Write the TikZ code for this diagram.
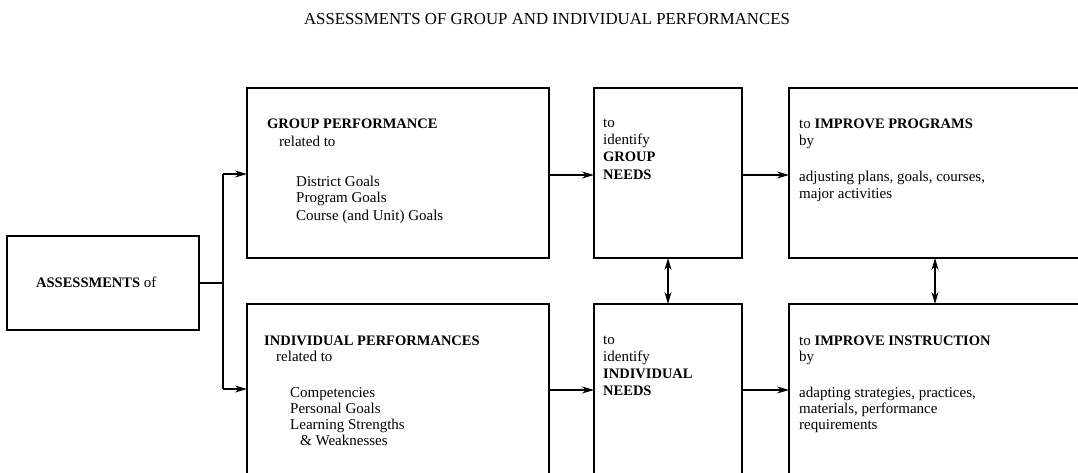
\documentclass[tikz,border=0pt]{standalone}
\usepackage{fontspec}
\setmainfont{Liberation Serif}
\usetikzlibrary{arrows.meta}
\begin{document}
\begin{tikzpicture}[x=1pt,y=-1pt,
  box/.style={draw, line width=1.2pt, rectangle, inner sep=0pt, outer sep=0pt, anchor=north west},
  conn/.style={line width=1.1pt},
  arr/.style={conn, -{Stealth[length=12pt,width=7pt]}},
  dbl/.style={conn, {Stealth[length=12pt,width=7pt]}-{Stealth[length=12pt,width=7pt]}},
  txt/.style={anchor=base west, inner sep=0pt, font=\fontsize{15}{17}\selectfont},
  btxt/.style={anchor=base west, inner sep=0pt, font=\fontsize{14.5}{17}\selectfont\bfseries}]
\useasboundingbox (0,0) rectangle (1078,473);
% title
\node[anchor=base, inner sep=0pt, font=\fontsize{16.8}{18}\selectfont] (title) at (547,25) {ASSESSMENTS OF GROUP AND INDIVIDUAL PERFORMANCES};
% boxes
\node[box, minimum width=192pt, minimum height=94pt] (as) at (7,236) {};
\node[box, minimum width=302pt, minimum height=170pt] (gp) at (247,88) {};
\node[box, minimum width=302pt, minimum height=190pt] (ip) at (247,304) {};
\node[box, minimum width=148pt, minimum height=170pt] (gn) at (594,88) {};
\node[box, minimum width=148pt, minimum height=190pt] (in) at (594,304) {};
\node[box, minimum width=310pt, minimum height=170pt] (pr) at (789,88) {};
\node[box, minimum width=310pt, minimum height=190pt] (ins) at (789,304) {};
% connectors
\coordinate (j) at (223,283);
\coordinate (jt) at (223,174);
\coordinate (jb) at (223,389);
\coordinate (r1) at (0,175);
\coordinate (r2) at (0,390);
\coordinate (v2) at (935,0);
\draw[conn] (as.east |- j) -- (j);
\draw[conn] (jt) -- (jb);
\draw[arr] (jt) -- (jt -| gp.west);
\draw[arr] (jb) -- (jb -| ip.west);
\draw[arr] (gp.east |- r1) -- (gn.west |- r1);
\draw[arr] (gn.east |- r1) -- (pr.west |- r1);
\draw[arr] (ip.east |- r2) -- (in.west |- r2);
\draw[arr] (in.east |- r2) -- (ins.west |- r2);
\draw[dbl] (gn.south) -- (gn.south |- in.north);
\draw[dbl] (pr.south -| v2) -- (ins.north -| v2);
% texts
\node[txt] (ast) at (36,287) {\textbf{\fontsize{14.5}{17}\selectfont ASSESSMENTS} of};
\node[btxt] (gp1) at (267,129) {GROUP PERFORMANCE};
\node[txt] (gp2) at (279,147) {related to};
\node[txt] (gp3) at (296,186) {District Goals};
\node[txt] (gp4) at (296,203) {Program Goals};
\node[txt] (gp5) at (296,220) {Course (and Unit) Goals};
\node[btxt] (ip1) at (264,345) {INDIVIDUAL PERFORMANCES};
\node[txt] (ip2) at (276,361) {related to};
\node[txt] (ip3) at (290,397) {Competencies};
\node[txt] (ip4) at (290,413) {Personal Goals};
\node[txt] (ip5) at (290,429) {Learning Strengths};
\node[txt] (ip6) at (300,445) {\& Weaknesses};
\node[txt] (gn1) at (603,128) {to};
\node[txt] (gn2) at (603,145) {identify};
\node[btxt] (gn3) at (603,162) {GROUP};
\node[btxt] (gn4) at (603,179) {NEEDS};
\node[txt] (in1) at (603,344) {to};
\node[txt] (in2) at (603,361) {identify};
\node[btxt] (in3) at (603,378) {INDIVIDUAL};
\node[btxt] (in4) at (603,395) {NEEDS};
\node[txt] (pr1) at (799,129) {to \textbf{\fontsize{14.5}{17}\selectfont IMPROVE PROGRAMS}};
\node[txt] (pr2) at (799,146) {by};
\node[txt] (pr3) at (799,182) {adjusting plans, goals, courses,};
\node[txt] (pr4) at (799,198) {major activities};
\node[txt] (is1) at (799,345) {to \textbf{\fontsize{14.5}{17}\selectfont IMPROVE INSTRUCTION}};
\node[txt] (is2) at (799,361) {by};
\node[txt] (is3) at (799,397) {adapting strategies, practices,};
\node[txt] (is4) at (799,413) {materials, performance};
\node[txt] (is5) at (799,429) {requirements};
\end{tikzpicture}
\end{document}
